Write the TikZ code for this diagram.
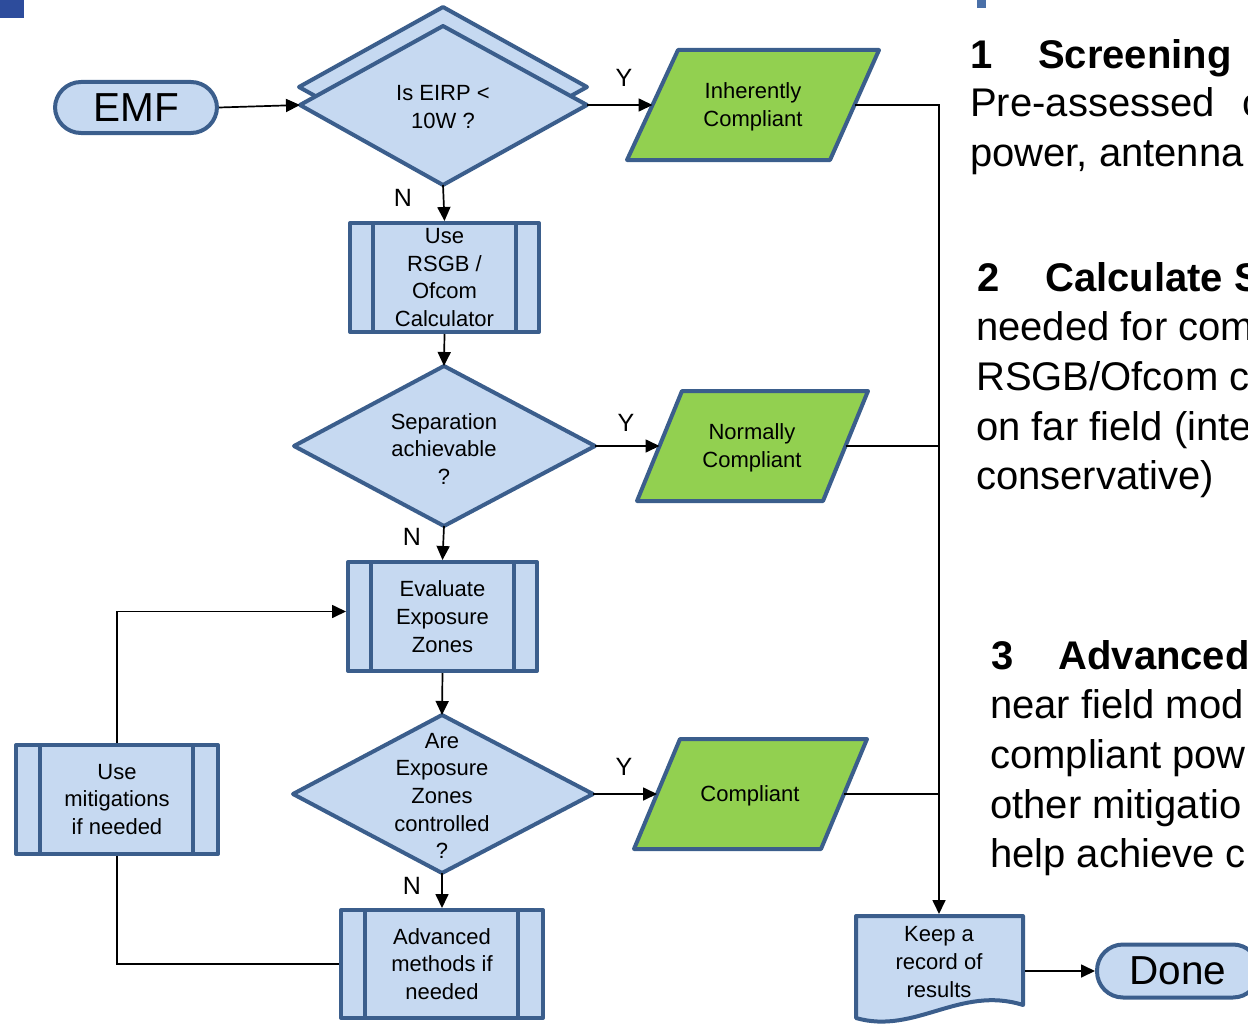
\documentclass[tikz,border=0pt]{standalone}
\usepackage{fontspec}
\setmainfont{Liberation Sans}
\usetikzlibrary{arrows.meta}
\definecolor{boxfill}{HTML}{C6D9F1}
\definecolor{boxline}{HTML}{3B5E8C}
\definecolor{okgreen}{HTML}{92D050}
\definecolor{cornerblue}{HTML}{2D4C9C}
\definecolor{markblue}{HTML}{4A70A8}
\begin{document}
\begin{tikzpicture}[x=1pt,y=-1pt,
  shp/.style={draw=boxline, line width=4pt, line join=round, fill=boxfill},
  grn/.style={draw=boxline, line width=4pt, line join=round, fill=okgreen},
  bar/.style={draw=boxline, line width=4pt},
  conn/.style={draw=black, line width=1.7pt},
  arr/.style={conn, -{Triangle[length=14pt,width=13pt]}},
  lbl/.style={font=\fontsize{25}{30}\selectfont, inner sep=0},
  txt/.style={align=center, inner sep=0, font=\fontsize{22}{27.7}\selectfont},
  big/.style={inner sep=0, anchor=base west, font=\fontsize{40}{49}\selectfont},
  proc/.style={shp, rectangle, inner sep=0, align=center, font=\fontsize{22}{27.7}\selectfont},
  term/.style={shp, rectangle, rounded corners=26pt, inner sep=0, font=\fontsize{40.5}{46}\selectfont}
]
\useasboundingbox (0,0) rectangle (1248,1025);
\clip (0,0) rectangle (1248,1025);

% corner marks
\fill[cornerblue] (0,0) rectangle (24,18);
\fill[markblue] (977,0) rectangle (986,8);

% terminators
\node[term, minimum width=162, minimum height=51] (emf) at (136,107.5) {EMF};
\node[term, minimum width=162, minimum height=53] (done) at (1178,971) {Done};

% diamond 1 (stacked)
\draw[shp] (443,7) -- (587,87) -- (443,167) -- (299,87) -- cycle;
\draw[shp] (443,26) -- (587,105) -- (443,185) -- (300,105) -- cycle;
\coordinate (d1n) at (443,26);
\coordinate (d1e) at (587,105);
\coordinate (d1s) at (443,185);
\coordinate (d1w) at (300,105);
\node[txt] (d1t) at (443,107) {Is EIRP <\\10W ?};

% diamond 2
\draw[shp] (444,366) -- (595,446) -- (444,526) -- (294,446) -- cycle;
\coordinate (d2n) at (444,366);
\coordinate (d2e) at (595,446);
\coordinate (d2s) at (444,526);
\node[txt] (d2t) at (444,449) {Separation\\achievable\\?};

% diamond 3
\draw[shp] (442,715) -- (593,794) -- (442,873) -- (293,794) -- cycle;
\coordinate (d3n) at (442,715);
\coordinate (d3e) at (593,794);
\coordinate (d3s) at (442,873);
\node[txt] (d3t) at (442,796) {Are\\Exposure\\Zones\\controlled\\?};

% parallelograms
\draw[grn] (678,50) -- (879,50) -- (830,160) -- (627,160) -- cycle;
\coordinate (p1w) at (652.5,105);
\coordinate (p1e) at (854.5,105);
\node[txt] (p1t) at (753,107) {Inherently\\Compliant};

\draw[grn] (682,391) -- (868,391) -- (823,501) -- (637,501) -- cycle;
\coordinate (p2w) at (659.5,446);
\coordinate (p2e) at (845.5,446);
\node[txt] (p2t) at (752,448) {Normally\\Compliant};

\draw[grn] (680,739) -- (867,739) -- (821,849) -- (634,849) -- cycle;
\coordinate (p3w) at (657,794);
\coordinate (p3e) at (844,794);
\node[txt] (p3t) at (750,796) {Compliant};

% predefined process boxes
\node[proc, minimum width=189, minimum height=109] (calc) at (444.5,277.5) {Use\\RSGB /\\Ofcom\\Calculator};
\draw[bar] ([xshift=25pt]calc.north west) -- ([xshift=25pt]calc.south west);
\draw[bar] ([xshift=-25pt]calc.north east) -- ([xshift=-25pt]calc.south east);

\node[proc, minimum width=189, minimum height=109] (eval) at (442.5,616.5) {Evaluate\\Exposure\\Zones};
\draw[bar] ([xshift=25pt]eval.north west) -- ([xshift=25pt]eval.south west);
\draw[bar] ([xshift=-25pt]eval.north east) -- ([xshift=-25pt]eval.south east);

\node[proc, minimum width=202, minimum height=109] (mitig) at (117,799.5) {Use\\mitigations\\if needed};
\draw[bar] ([xshift=26pt]mitig.north west) -- ([xshift=26pt]mitig.south west);
\draw[bar] ([xshift=-27pt]mitig.north east) -- ([xshift=-27pt]mitig.south east);

\node[proc, minimum width=202, minimum height=108] (adv) at (442,964) {Advanced\\methods if\\needed};
\draw[bar] ([xshift=26pt]adv.north west) -- ([xshift=26pt]adv.south west);
\draw[bar] ([xshift=-27pt]adv.north east) -- ([xshift=-27pt]adv.south east);

% document shape
\draw[shp] (856,916) -- (1023,916) -- (1023,1005) .. controls (960,985) and (915,1035) .. (856,1018) -- cycle;
\coordinate (keepn) at (939,914);
\coordinate (keepe) at (1025,971);
\node[txt] (keep) at (939,962) {Keep a\\record of\\results};

% connectors
\draw[arr] (emf.east) -- (d1w);
\draw[arr] (d1e) -- (p1w);
\draw[arr] (d1s) -- (calc.north);
\draw[arr] (calc.south) -- (d2n);
\draw[arr] (d2e) -- (p2w);
\draw[arr] (d2s) -- (eval.north);
\draw[arr] (eval.south) -- (d3n);
\draw[arr] (d3e) -- (p3w);
\draw[arr] (d3s) -- (adv.north);
\draw[arr] (p1e) -| (keepn);
\draw[conn] (p2e) -- (p2e -| keepn);
\draw[conn] (p3e) -- (p3e -| keepn);
\draw[arr] (mitig.north) |- ([yshift=5pt]eval.west);
\draw[conn] (mitig.south) |- (adv.west);
\draw[arr] (keepe) -- (done.west);

% Y / N labels
\node[lbl] (y1) at (624,78) {Y};
\node[lbl] (n1) at (403,198) {N};
\node[lbl] (y2) at (626,423) {Y};
\node[lbl] (n2) at (412,537) {N};
\node[lbl] (y3) at (624,767) {Y};
\node[lbl] (n3) at (412,886) {N};

% right-hand text
\node[big] (s1a) at (970,69) {\textbf{1}\hspace{45.8pt}\textbf{Screening}};
\node[big] (s1b) at (970,117) {Pre-assessed\hspace{28pt}c};
\node[big] (s1c) at (970,166) {power, antenna};
\node[big] (s2a) at (977,291) {\textbf{2}\hspace{45.8pt}\textbf{Calculate S}};
\node[big] (s2b) at (976,340) {needed for com};
\node[big] (s2c) at (976,390) {RSGB/Ofcom c};
\node[big] (s2d) at (976,440) {on far field (inte};
\node[big] (s2e) at (976,489) {conservative)};
\node[big] (s3a) at (991,669) {\textbf{3}\hspace{45pt}\textbf{Advanced}};
\node[big] (s3b) at (990,718) {near field mod};
\node[big] (s3c) at (990,768) {compliant pow};
\node[big] (s3d) at (990,818) {other mitigatio};
\node[big] (s3e) at (990,867) {help achieve c};
\end{tikzpicture}
\end{document}
